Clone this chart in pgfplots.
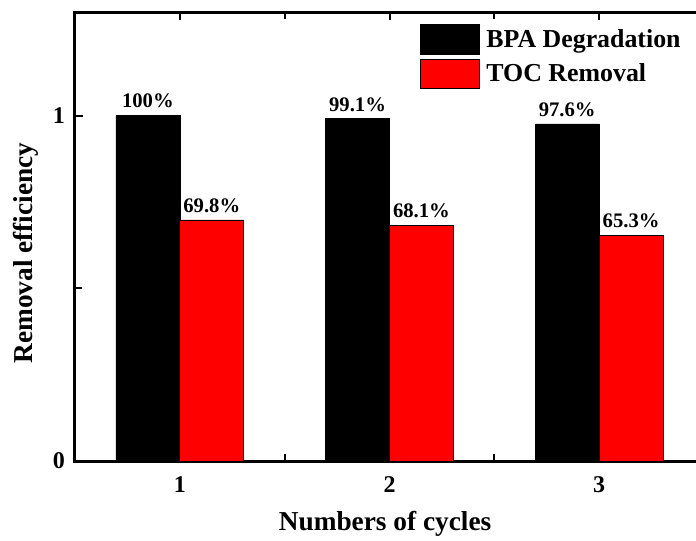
\documentclass[border=0pt]{standalone}
\usepackage{fontspec}
\setmainfont{Liberation Serif}
\usepackage{pgfplots}
\usepackage{pgfplotstable}
\pgfplotsset{compat=1.18}

% removal efficiency (%) after each reuse cycle
\pgfplotstableread{
cycle bpa  toc
1     100  69.8
2     99.1 68.1
3     97.6 65.3
}\cycles

\begin{document}
\begin{tikzpicture}
\begin{axis}[
  at={(0pt,0pt)}, anchor=south west,
  scale only axis, width=471.75pt, height=336.75pt,
  xmin=0.5, xmax=3.5, ymin=0, ymax=1.3,
  ybar, bar width=0.305, bar shift=0pt,
  xtick={1,2,3}, minor xtick={1.5,2.5},
  ytick={0,1}, minor ytick={0.5}, ytick pos=left,
  tick align=inside,
  major tick length=6pt, minor tick length=5pt,
  tick style={black, line width=1.5pt},
  axis line style={line width=2.25pt},
  /pgf/number format/assume math mode=true,
  tick label style={font=\fontsize{18}{20}\selectfont\bfseries},
  xticklabel style={yshift=-8.5pt},
  yticklabel style={xshift=-4pt},
  xlabel={Numbers of cycles},
  ylabel={Removal efficiency},
  label style={font=\fontsize{20.5}{23}\selectfont\bfseries},
  xlabel style={at={(axis description cs:0.493,-0.14)}, anchor=center},
  ylabel style={at={(axis description cs:-0.0668,0.463)}, anchor=base},
  point meta=explicit,
  nodes near coords={\pgfmathprintnumber[fixed,precision=1]{\pgfplotspointmeta}\%},
  nodes near coords style={font=\fontsize{15.5}{17}\selectfont\bfseries, yshift=2pt},
  legend style={at={(0.5485,0.973)}, anchor=north west, draw=none, fill=none,
    inner sep=0pt, font=\fontsize{19.4}{22}\selectfont\bfseries,
    row sep=3.5pt, column sep=4pt, nodes={inner sep=1pt}},
  legend cell align=left,
  legend image code/.code={\draw[#1] (0pt,-11pt) rectangle (44pt,11pt);},
]
\addplot[fill=black, draw=black]
  table[x expr=\thisrow{cycle}-0.1525, y expr=\thisrow{bpa}/100, meta=bpa] {\cycles};
\addplot[fill=red, draw=black, line width=0.6pt]
  table[x expr=\thisrow{cycle}+0.1525, y expr=\thisrow{toc}/100, meta=toc] {\cycles};
\legend{BPA Degradation, TOC Removal}
\end{axis}
\pgfresetboundingbox
\useasboundingbox (-56.25pt,-59.25pt) rectangle (465.75pt,345.75pt);
\end{tikzpicture}
\end{document}
